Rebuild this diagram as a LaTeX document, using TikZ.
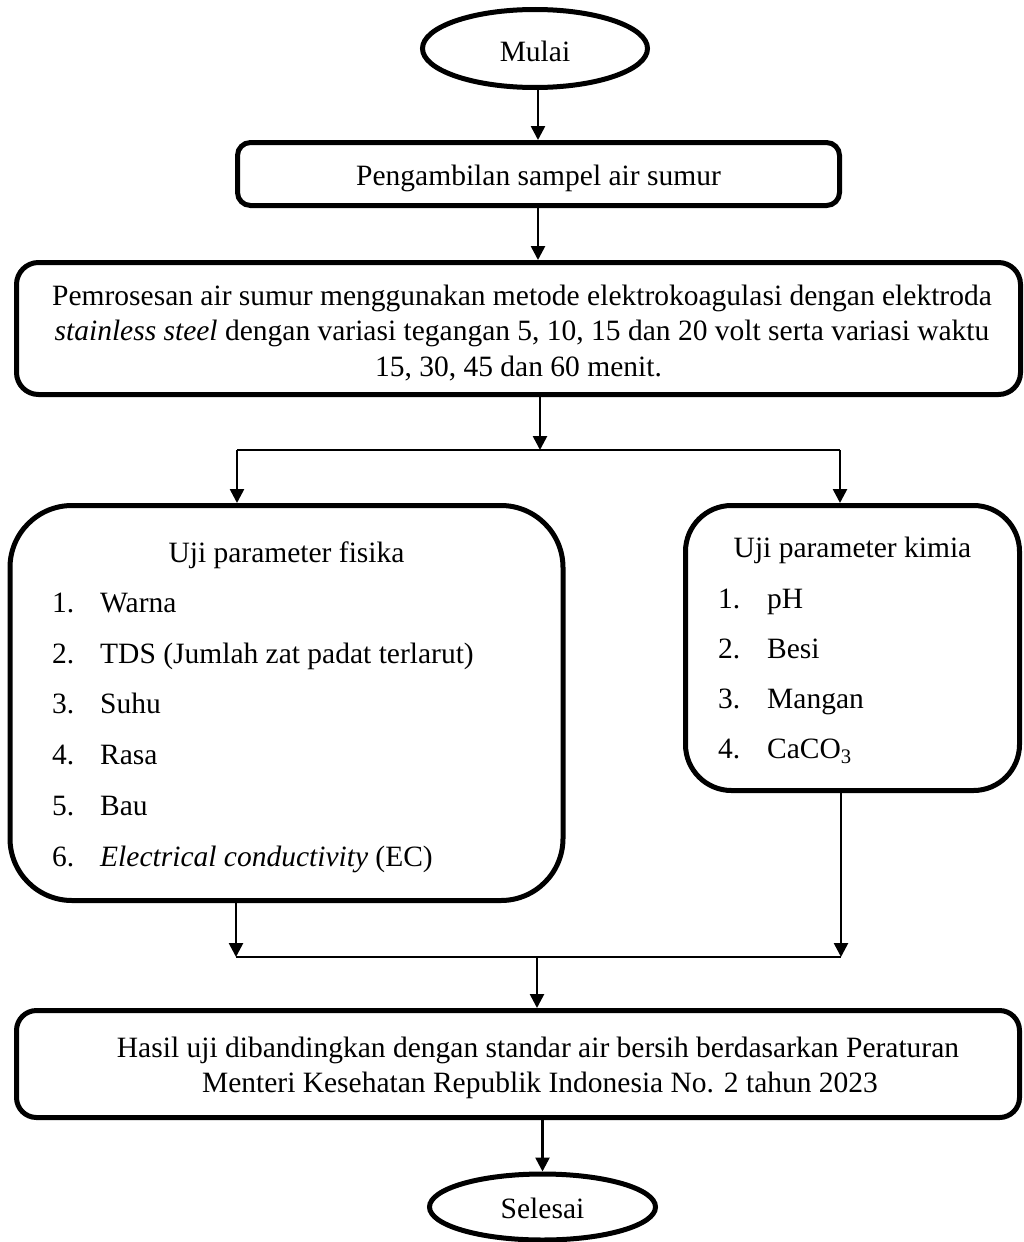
\documentclass[tikz,border=0pt]{standalone}
\usepackage{fontspec}
\setmainfont{Liberation Serif}
\usetikzlibrary{shapes.geometric,arrows.meta}
\begin{document}
\begin{tikzpicture}[x=1pt,y=-1pt,
  font=\fontsize{29.5}{35.5}\selectfont,
  term/.style={ellipse, draw, line width=5pt, inner sep=0pt},
  boxshape/.style={rectangle, draw, line width=5pt, inner sep=0pt},
  arr/.style={line width=2.6pt, -{Triangle[length=14pt,width=14pt]}},
  conn/.style={line width=2.6pt},
  txt/.style={anchor=base west, inner sep=0pt},
  ctr/.style={anchor=base, inner sep=0pt, align=center}
]
\useasboundingbox (0,0) rectangle (1024,1242);

% terminals
\node[term, minimum width=225pt, minimum height=78pt] (start) at (535,48.5) {};
\node[ctr] (startt) at (535,61) {Mulai};

% process boxes
\node[boxshape, rounded corners=13pt, minimum width=602pt, minimum height=63pt] (b1) at (538.5,174) {};
\node[ctr] (b1t) at (538.5,185) {Pengambilan sampel air sumur};

\node[boxshape, rounded corners=22pt, minimum width=1004pt, minimum height=132pt] (b2) at (518.5,328.5) {};
\node[ctr] (b2a) at (522,305) {Pemrosesan air sumur menggunakan metode elektrokoagulasi dengan elektroda};
\node[ctr] (b2b) at (522,340.5) {\textit{stainless steel} dengan variasi tegangan 5, 10, 15 dan 20 volt serta variasi waktu};
\node[ctr] (b2c) at (518.5,376) {15, 30, 45 dan 60 menit.};

% list boxes
\node[boxshape, rounded corners=62pt, minimum width=553pt, minimum height=395pt] (fis) at (286.5,703) {};
\node[ctr] (fist) at (286.5,562) {Uji parameter fisika};
\foreach \n/\t/\y in {1/Warna/612.5, 2/TDS (Jumlah zat padat terlarut)/663, 3/Suhu/713.5, 4/Rasa/764.5, 5/Bau/815, 6/\textit{Electrical conductivity} (EC)/866}{
  \node[txt] (fn\n) at (52,\y) {\n.};
  \node[txt] (fi\n) at (100,\y) {\t};
}

\node[boxshape, rounded corners=46pt, minimum width=334pt, minimum height=285pt] (kim) at (852.5,648) {};
\node[ctr] (kimt) at (852.5,557) {Uji parameter kimia};
\foreach \n/\t/\y in {1/pH/608, 2/Besi/658, 3/Mangan/708, 4/CaCO\textsubscript{3}/758}{
  \node[txt] (kn\n) at (718,\y) {\n.};
  \node[txt] (ki\n) at (767,\y) {\t};
}

\node[boxshape, rounded corners=20pt, minimum width=1003pt, minimum height=107pt] (hasil) at (518,1064) {};
\node[ctr] (hasila) at (538,1057) {Hasil uji dibandingkan dengan standar air bersih berdasarkan Peraturan};
\node[ctr] (hasilb) at (540,1092) {Menteri Kesehatan Republik Indonesia No. 2 tahun 2023};

\node[term, minimum width=226pt, minimum height=66pt] (end) at (542.5,1207) {};
\node[ctr] (endt) at (542.5,1218) {Selesai};

% connectors
\coordinate (top1) at (538,0);
\draw[arr] (top1 |- start.south) -- (top1 |- b1.north);
\draw[arr] (top1 |- b1.south) -- (top1 |- b2.north);

\coordinate (sp) at (540,450);
\coordinate (spl) at (237,450);
\coordinate (spr) at (840,450);
\draw[arr] (sp |- b2.south) -- (sp);
\draw[conn] (spl) -- (spr);
\draw[arr] (spl) -- (spl |- fis.north);
\draw[arr] (spr) -- (spr |- kim.north);

\coordinate (mg) at (537,957);
\coordinate (mgl) at (236,957);
\coordinate (mgr) at (841,957);
\draw[arr] (mgl |- fis.south) -- (mgl);
\draw[arr] (mgr |- kim.south) -- (mgr);
\draw[conn] (mgl) -- (mgr);
\draw[arr] (mg) -- (mg |- hasil.north);
\draw[arr] (end.north |- hasil.south) -- (end.north);
\end{tikzpicture}
\end{document}
